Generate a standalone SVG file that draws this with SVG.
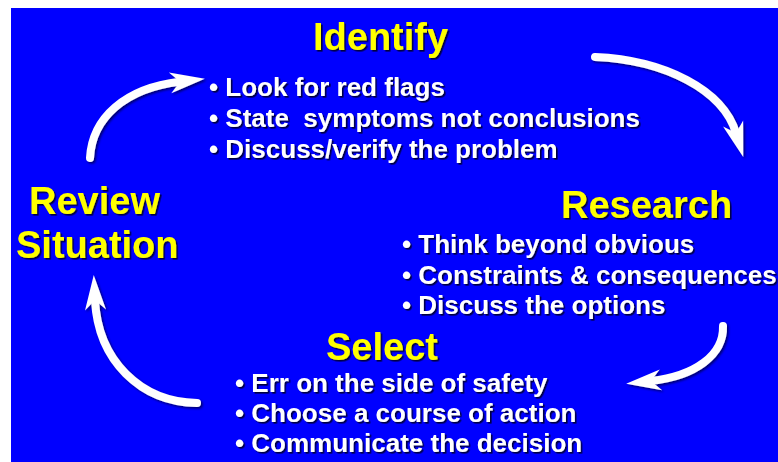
<svg xmlns="http://www.w3.org/2000/svg" width="778" height="462" viewBox="0 0 778 462">
  <defs>
    <filter id="shadow" x="-10%" y="-20%" width="130%" height="150%">
      <feDropShadow dx="1.6" dy="1.6" stdDeviation="0.6" flood-color="#000000" flood-opacity="0.75"/>
    </filter>
    <filter id="ashadow" filterUnits="userSpaceOnUse" x="0" y="0" width="778" height="462">
      <feDropShadow dx="1.6" dy="1.6" stdDeviation="0.8" flood-color="#000000" flood-opacity="0.6"/>
    </filter>
    <marker id="head" markerUnits="userSpaceOnUse" markerWidth="40" markerHeight="30" refX="0" refY="0" orient="auto" overflow="visible">
      <path d="M 25 0 L -10 -10.5 L 0 0 L -10 10.5 Z" fill="#ffffff"/>
    </marker>
    <style>
      .bg { fill: #0000ff; }
      .title { font-family: "Liberation Sans", Arial, sans-serif; font-weight: bold; font-size: 38px; fill: #ffff00; filter: url(#shadow); }
      .item { font-family: "Liberation Sans", Arial, sans-serif; font-weight: bold; font-size: 26px; fill: #ffffff; filter: url(#shadow); white-space: pre; }
      .arrow { fill: none; stroke: #ffffff; stroke-width: 8; stroke-linecap: round; marker-end: url(#head); }
    </style>
  </defs>

  <rect class="bg" x="11" y="8" width="767" height="454"/>

  <g id="connectors" filter="url(#ashadow)">
    <path class="arrow" d="M 90 158 C 92 118 125 88 180 81.7"/>
    <path class="arrow" d="M 595 57 C 665 60 723 90 736 133"/>
    <path class="arrow" d="M 723 326 C 724 355 695 376 651 381"/>
    <path class="arrow" d="M 197 403 C 140 402 98 360 95 300"/>
  </g>

  <g id="node-identify">
    <text class="title" x="313" y="50">Identify</text>
    <text class="item" x="209" y="96" xml:space="preserve">• Look for red flags</text>
    <text class="item" x="209" y="127" xml:space="preserve">• State  symptoms not conclusions</text>
    <text class="item" x="209" y="158" xml:space="preserve">• Discuss/verify the problem</text>
  </g>

  <g id="node-research">
    <text class="title" x="561" y="218">Research</text>
    <text class="item" x="402" y="253" xml:space="preserve">• Think beyond obvious</text>
    <text class="item" x="402" y="284" xml:space="preserve">• Constraints &amp; consequences</text>
    <text class="item" x="402" y="314" xml:space="preserve">• Discuss the options</text>
  </g>

  <g id="node-select">
    <text class="title" x="326" y="360">Select</text>
    <text class="item" x="235" y="392" xml:space="preserve">• Err on the side of safety</text>
    <text class="item" x="235" y="422" xml:space="preserve">• Choose a course of action</text>
    <text class="item" x="235" y="452" xml:space="preserve">• Communicate the decision</text>
  </g>

  <g id="node-review">
    <text class="title" x="29" y="214">Review</text>
    <text class="title" x="16" y="258">Situation</text>
  </g>
</svg>
